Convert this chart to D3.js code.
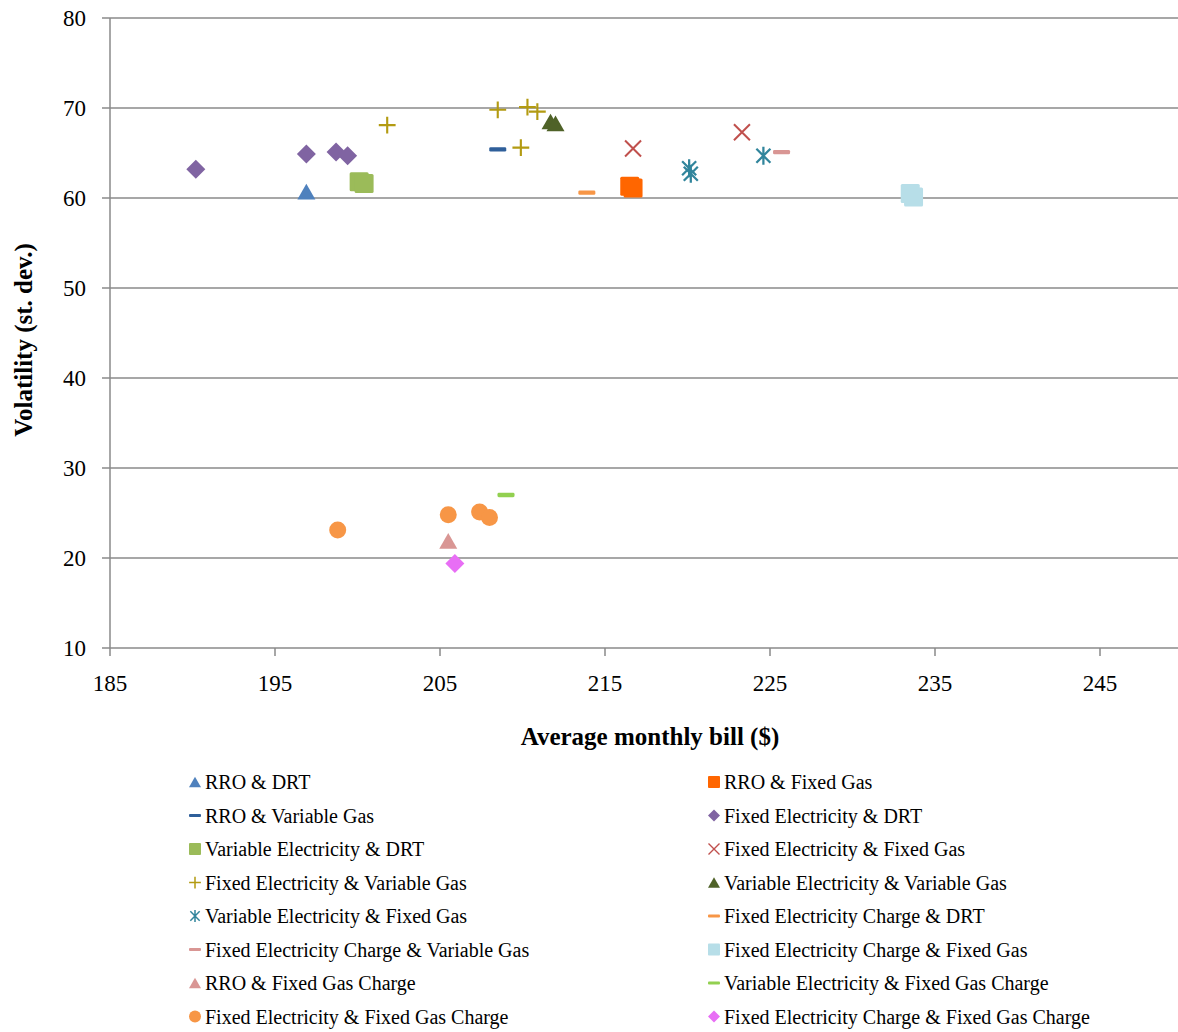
<!DOCTYPE html>
<html>
<head>
<meta charset="utf-8">
<script src="https://cdn.jsdelivr.net/npm/d3@7"></script>
<style>
  body { margin: 0; background: #fff; }
  svg { display: block; font-family: "Liberation Serif", "DejaVu Serif", serif; }
</style>
</head>
<body>
<svg id="chart" width="1178" height="1032"></svg>
<script>
// Series names (legend order, left column then right column)
const seriesNames = [
  "RRO & DRT", "RRO & Fixed Gas",
  "RRO & Variable Gas", "Fixed Electricity & DRT",
  "Variable Electricity & DRT", "Fixed Electricity & Fixed Gas",
  "Fixed Electricity & Variable Gas", "Variable Electricity & Variable Gas",
  "Variable Electricity & Fixed Gas", "Fixed Electricity Charge & DRT",
  "Fixed Electricity Charge & Variable Gas", "Fixed Electricity Charge & Fixed Gas",
  "RRO & Fixed Gas Charge", "Variable Electricity & Fixed Gas Charge",
  "Fixed Electricity & Fixed Gas Charge", "Fixed Electricity Charge & Fixed Gas Charge"
];

// Average monthly bill ($) for each point of each series
const billValues = [
  [196.9],
  [216.5, 216.7],
  [208.5],
  [190.2, 196.9, 198.7, 199.4],
  [200.1, 200.4],
  [216.7, 223.3],
  [201.8, 208.5, 210.3, 210.9, 209.9],
  [211.7, 212.0],
  [220.1, 220.2, 224.6],
  [213.9],
  [225.7],
  [233.5, 233.7],
  [205.5],
  [209.0],
  [198.8, 205.5, 207.4, 208.0],
  [205.9]
];

// Volatility (st. dev.) for each point of each series
const volValues = [
  [60.7],
  [61.3, 61.1],
  [65.4],
  [63.2, 64.9, 65.1, 64.7],
  [61.8, 61.6],
  [65.5, 67.3],
  [68.1, 69.8, 70.1, 69.6, 65.6],
  [68.5, 68.3],
  [63.3, 62.7, 64.7],
  [60.6],
  [65.1],
  [60.5, 60.1],
  [21.9],
  [27.0],
  [23.1, 24.8, 25.1, 24.5],
  [19.4]
];

// Axis ticks
const xTicks = [185, 195, 205, 215, 225, 235, 245];
const yTicks = [10, 20, 30, 40, 50, 60, 70, 80];

// Marker styles
const colors = [
  "#4f81bd", "#ff6600", "#2f5f9a", "#8064a2",
  "#9bbb59", "#c0504d", "#b39b12", "#4f6228",
  "#31859c", "#f79646", "#d99694", "#b7dee8",
  "#d99694", "#92d050", "#f79646", "#e86ef5"
];
const shapes = [
  "triangle", "square", "dash", "diamond",
  "square", "times", "plus", "triangle",
  "asterisk", "dash", "dash", "square",
  "triangle", "dash", "circle", "diamond"
];

const svg = d3.select("#chart");
const plotLeft = 110, plotRight = 1182.5, plotTop = 18, plotBottom = 648;

const x = d3.scaleLinear().domain([185, 250]).range([plotLeft, plotRight]);
const y = d3.scaleLinear().domain([10, 80]).range([plotBottom, plotTop]);

// gridlines
svg.append("g")
  .selectAll("line")
  .data(yTicks)
  .join("line")
    .attr("x1", plotLeft - 8)
    .attr("x2", plotRight)
    .attr("y1", d => y(d))
    .attr("y2", d => y(d))
    .attr("stroke", "#8a8a8a")
    .attr("stroke-width", 1.5);

// y axis line
svg.append("line")
  .attr("x1", plotLeft).attr("x2", plotLeft)
  .attr("y1", plotTop).attr("y2", plotBottom)
  .attr("stroke", "#8a8a8a")
  .attr("stroke-width", 1.5);

// x tick marks
svg.append("g")
  .selectAll("line")
  .data(xTicks)
  .join("line")
    .attr("x1", d => x(d)).attr("x2", d => x(d))
    .attr("y1", plotBottom).attr("y2", plotBottom + 8)
    .attr("stroke", "#8a8a8a")
    .attr("stroke-width", 1.5);

// tick labels
svg.append("g")
  .selectAll("text")
  .data(xTicks)
  .join("text")
    .attr("x", d => x(d))
    .attr("y", plotBottom + 35)
    .attr("text-anchor", "middle")
    .attr("dominant-baseline", "central")
    .attr("font-size", 23)
    .attr("fill", "#000")
    .text(d => d);

svg.append("g")
  .selectAll("text")
  .data(yTicks)
  .join("text")
    .attr("x", 86)
    .attr("y", d => y(d))
    .attr("text-anchor", "end")
    .attr("dominant-baseline", "central")
    .attr("font-size", 23)
    .attr("fill", "#000")
    .text(d => d);

// axis titles
svg.append("text")
  .attr("x", 650)
  .attr("y", 736)
  .attr("text-anchor", "middle")
  .attr("dominant-baseline", "central")
  .attr("font-size", 25)
  .attr("font-weight", "bold")
  .text("Average monthly bill ($)");

svg.append("text")
  .attr("transform", "translate(23,340) rotate(-90)")
  .attr("text-anchor", "middle")
  .attr("dominant-baseline", "central")
  .attr("font-size", 25)
  .attr("font-weight", "bold")
  .text("Volatility (st. dev.)");

// draw a marker of the given shape into a selection of <g>
function drawMarker(g, shape, color, s) {
  const r = s / 2;
  if (shape === "triangle") {
    const h = s * 0.87;
    g.append("path")
      .attr("d", `M0,${-h / 2}L${r},${h / 2}L${-r},${h / 2}Z`)
      .attr("fill", color);
  } else if (shape === "square") {
    g.append("rect")
      .attr("x", -r).attr("y", -r)
      .attr("width", s).attr("height", s)
      .attr("rx", s * 0.08)
      .attr("fill", color);
  } else if (shape === "diamond") {
    g.append("path")
      .attr("d", d3.symbol(d3.symbolDiamond2, Math.pow(r / 0.62625, 2))())
      .attr("fill", color);
  } else if (shape === "circle") {
    g.append("circle").attr("r", r).attr("fill", color);
  } else if (shape === "dash") {
    g.append("rect")
      .attr("x", -r).attr("y", -s * 0.13)
      .attr("width", s).attr("height", s * 0.26)
      .attr("rx", s * 0.08)
      .attr("fill", color);
  } else if (shape === "plus") {
    g.append("path")
      .attr("d", d3.symbol(d3.symbolPlus, Math.pow(s / 1.75, 2))())
      .attr("fill", "none").attr("stroke", color).attr("stroke-width", s / 8);
  } else if (shape === "times") {
    g.append("path")
      .attr("d", d3.symbol(d3.symbolTimes, Math.pow(s / 1.24, 2) + 2)())
      .attr("fill", "none").attr("stroke", color).attr("stroke-width", s / 8);
  } else if (shape === "asterisk") {
    // X with a vertical bar, like the office-chart star marker
    const p = d3.path();
    const a = r * 0.78;
    p.moveTo(-a, -a); p.lineTo(a, a);
    p.moveTo(-a, a); p.lineTo(a, -a);
    p.moveTo(0, -r); p.lineTo(0, r);
    g.append("path")
      .attr("d", p.toString())
      .attr("fill", "none").attr("stroke", color).attr("stroke-width", s / 8);
  }
}

const plotSize = {
  triangle: 18, square: 19, diamond: 19, circle: 17,
  dash: 17, plus: 17, times: 16, asterisk: 18
};

// points
seriesNames.forEach((name, i) => {
  const pts = billValues[i].map((b, j) => ({ bill: b, vol: volValues[i][j] }));
  svg.append("g")
    .selectAll("g")
    .data(pts)
    .join("g")
      .attr("transform", d => `translate(${x(d.bill)},${y(d.vol)})`)
      .each(function() {
        drawMarker(d3.select(this), shapes[i], colors[i], plotSize[shapes[i]]);
      });
});

// legend
const legendX = [195, 714];
const legendY0 = 782, legendStep = 33.5;
const legendSize = {
  triangle: 12, square: 12, diamond: 12, circle: 12,
  dash: 12, plus: 12, times: 11, asterisk: 12
};
const legend = svg.append("g")
  .selectAll("g")
  .data(seriesNames)
  .join("g")
    .attr("transform", (d, i) => `translate(${legendX[i % 2]},${legendY0 + Math.floor(i / 2) * legendStep})`);

legend.each(function(d, i) {
  drawMarker(d3.select(this), shapes[i], colors[i], legendSize[shapes[i]]);
});

legend.append("text")
  .attr("x", 10)
  .attr("dominant-baseline", "central")
  .attr("font-size", 20)
  .attr("fill", "#000")
  .text(d => d);
</script>
</body>
</html>
